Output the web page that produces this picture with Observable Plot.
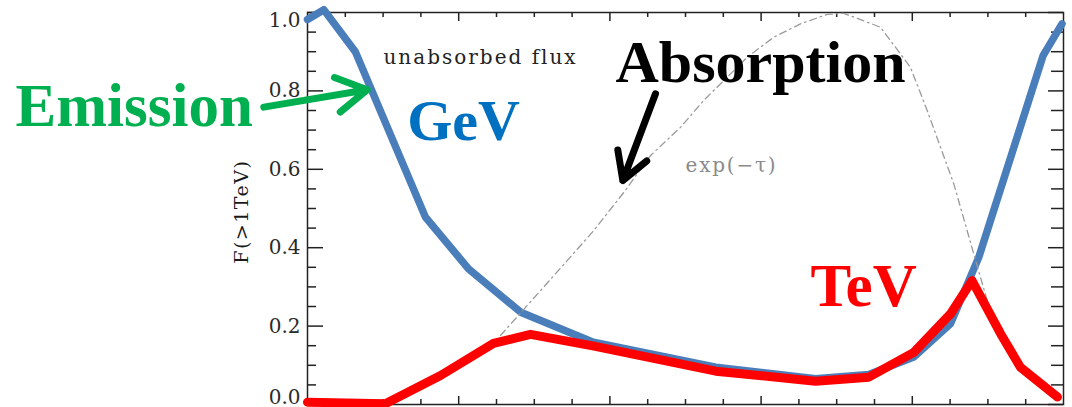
<!DOCTYPE html>
<html>
<head>
<meta charset="utf-8">
<script src="https://cdn.jsdelivr.net/npm/d3@7"></script>
<script src="https://cdn.jsdelivr.net/npm/@observablehq/plot@0.6"></script>
<style>
  html, body { margin: 0; padding: 0; background: #fff; overflow: hidden; }
</style>
</head>
<body>
<div id="chart"></div>
<script>
// ---- data (orbital phase vs. normalised flux) ----
const phaseGeV = [0, 0.0216, 0.0635, 0.156, 0.213, 0.282, 0.378, 0.54, 0.672, 0.7425, 0.802, 0.8505, 0.888, 0.973, 0.998];
const fluxGeV  = [0.982, 1.007, 0.899, 0.478, 0.346, 0.2355, 0.159, 0.095, 0.0655, 0.0765, 0.121, 0.206, 0.376, 0.890, 0.971];

const phaseTeV = [0, 0.103, 0.176, 0.246, 0.295, 0.379, 0.54, 0.672, 0.7425, 0.802, 0.8505, 0.879, 0.917, 0.943, 0.992];
const fluxTeV  = [0.006, 0.002, 0.074, 0.156, 0.179, 0.149, 0.085, 0.0595, 0.0697, 0.133, 0.231, 0.316, 0.180, 0.095, 0.019];

const phaseTau = [0.2553, 0.3435, 0.3787, 0.4184, 0.4537, 0.4934, 0.5242, 0.5552, 0.5816, 0.6168, 0.6521, 0.6874, 0.7094, 0.7579, 0.7976, 0.8197, 0.8549, 0.8813, 0.8991, 0.9167, 0.943, 0.989];
const expTau   = [0.176, 0.367, 0.444, 0.541, 0.635, 0.707, 0.776, 0.835, 0.886, 0.937, 0.971, 0.995, 0.998, 0.9625, 0.860, 0.750, 0.563, 0.384, 0.265, 0.180, 0.095, 0.015];

const yMajorTicks = [0, 0.2, 0.4, 0.6, 0.8, 1.0];
const yMinorTicks = [0.05, 0.1, 0.15, 0.25, 0.3, 0.35, 0.45, 0.5, 0.55, 0.65, 0.7, 0.75, 0.85, 0.9, 0.95];
const xMajorTicks = [0.2, 0.4, 0.6, 0.8];
const xMinorTicks = [0.05, 0.1, 0.15, 0.25, 0.3, 0.35, 0.45, 0.5, 0.55, 0.65, 0.7, 0.75, 0.85, 0.9, 0.95];

const yAxisLabel = ["F(>1TeV)"];
const labels = ["Emission", "GeV", "Absorption", "TeV", "unabsorbed flux", "exp(\u2212\u03C4)"];

// ---- build tables ----
const gev = phaseGeV.map((p, i) => ({phase: p, flux: fluxGeV[i]}));
const tev = phaseTeV.map((p, i) => ({phase: p, flux: fluxTeV[i]}));
const tau = phaseTau.map((p, i) => ({phase: p, flux: expTau[i]}));

const W = 1072, H = 407, mL = 307, mR = 9, mT = 12, mB = 3;
const pw = W - mL - mR, ph = H - mT - mB;
const ink = "#222";
const bigFont = "Liberation Serif, Times New Roman, serif";
const smallFont = "DejaVu Serif, serif";

const chart = Plot.plot({
  width: W, height: H,
  marginLeft: mL, marginRight: mR, marginTop: mT, marginBottom: mB,
  x: {domain: [0, 1], axis: null},
  y: {domain: [0, 1], axis: null},
  style: {background: "#fff", overflow: "visible", fontFamily: smallFont},
  marks: [
    // inward ticks, y (left and right)
    Plot.tickY(yMajorTicks, {y: d => d, stroke: ink, strokeWidth: 1.5, insetRight: pw - 16}),
    Plot.tickY(yMinorTicks, {y: d => d, stroke: ink, strokeWidth: 1.5, insetRight: pw - 9}),
    Plot.tickY(yMajorTicks, {y: d => d, stroke: ink, strokeWidth: 1.5, insetLeft: pw - 15}),
    Plot.tickY(yMinorTicks, {y: d => d, stroke: ink, strokeWidth: 1.5, insetLeft: pw - 12}),
    // inward ticks, x (top and bottom)
    Plot.tickX(xMajorTicks, {x: d => d, stroke: ink, strokeWidth: 1.5, insetBottom: ph - 9}),
    Plot.tickX(xMinorTicks, {x: d => d, stroke: ink, strokeWidth: 1.5, insetBottom: ph - 5}),
    Plot.tickX(xMajorTicks, {x: d => d, stroke: ink, strokeWidth: 1.5, insetTop: ph - 8}),
    Plot.tickX(xMinorTicks, {x: d => d, stroke: ink, strokeWidth: 1.5, insetTop: ph - 5}),
    Plot.frame({stroke: ink, strokeWidth: 1.5}),

    // y tick labels
    Plot.text(yMajorTicks, {filter: d => d > 0 && d < 1, y: d => d, text: d => d.toFixed(1),
      frameAnchor: "left", textAnchor: "end", dx: -7, fontSize: 20, fill: "#2a2a2a"}),
    Plot.text(yMajorTicks, {filter: d => d === 1, y: d => d, text: d => d.toFixed(1),
      frameAnchor: "left", textAnchor: "end", dx: -7, dy: 8, fontSize: 20, fill: "#2a2a2a"}),
    Plot.text(yMajorTicks, {filter: d => d === 0, y: d => d, text: d => d.toFixed(1),
      frameAnchor: "left", textAnchor: "end", dx: -7, dy: -7, fontSize: 20, fill: "#2a2a2a"}),
    // y axis title
    Plot.text(yAxisLabel, {text: d => d, frameAnchor: "left", textAnchor: "middle", y: 0.492, dx: -66, rotate: -90,
      fontSize: 19, fill: "#1a1a1a"}),

    // curves
    Plot.line(gev, {x: "phase", y: "flux", stroke: "#4A7EBB", strokeWidth: 7.5, curve: "linear"}),
    Plot.line(tau, {x: "phase", y: "flux", stroke: "#9a9a9a", strokeWidth: 1.3, strokeDasharray: "7,4,1.5,4"}),
    Plot.line(tev, {x: "phase", y: "flux", stroke: "#FF0000", strokeWidth: 9, curve: "linear"}),

    // small in-plot labels
    Plot.text([labels[4]], {text: d => d, x: 0.1005, y: 0.8837, textAnchor: "start",
      fontSize: 20, fill: "#222"}),
    Plot.text([labels[5]], {text: d => d, x: 0.5, y: 0.6107, textAnchor: "start",
      fontSize: 20, fill: "#8a8a8a"}),

    // big annotations
    Plot.text([labels[0]], {text: d => d, x: -0.3862, y: 0.7615, textAnchor: "start",
      fontSize: 61, fontWeight: "bold", fontFamily: bigFont, fill: "#00B050"}),
    Plot.text([labels[1]], {text: d => d, x: 0.1319, y: 0.721, textAnchor: "start",
      fontSize: 58, fontWeight: "bold", fontFamily: bigFont, fill: "#0070C0"}),
    Plot.text([labels[2]], {text: d => d, x: 0.4074, y: 0.871, textAnchor: "start",
      fontSize: 60, fontWeight: "bold", fontFamily: bigFont, fill: "#000"}),
    Plot.text([labels[3]], {text: d => d, x: 0.6653, y: 0.302, textAnchor: "start",
      fontSize: 61, fontWeight: "bold", fontFamily: bigFont, fill: "#FF0000"}),

    // arrows
    Plot.arrow([0], {x1: -0.0578, y1: 0.7585, x2: 0.0790, y2: 0.8028,
      stroke: "#00B050", strokeWidth: 7, headLength: 7.5, strokeLinecap: "round", strokeLinejoin: "round"}),
    Plot.arrow([0], {x1: 0.4603, y1: 0.7926, x2: 0.4171, y2: 0.5714,
      stroke: "#000", strokeWidth: 7, headLength: 8, strokeLinecap: "round", strokeLinejoin: "round"})
  ]
});

// letter spacing for the wide, IDL-style small labels
const spacing = new Map([[labels[4], "2px"], [labels[5], "1.8px"], [yAxisLabel[0], "1.5px"]]);
d3.select(chart).selectAll("text").each(function () {
  const s = spacing.get(this.textContent);
  if (s) this.style.letterSpacing = s;
});

document.getElementById("chart").appendChild(chart);
</script>
</body>
</html>
